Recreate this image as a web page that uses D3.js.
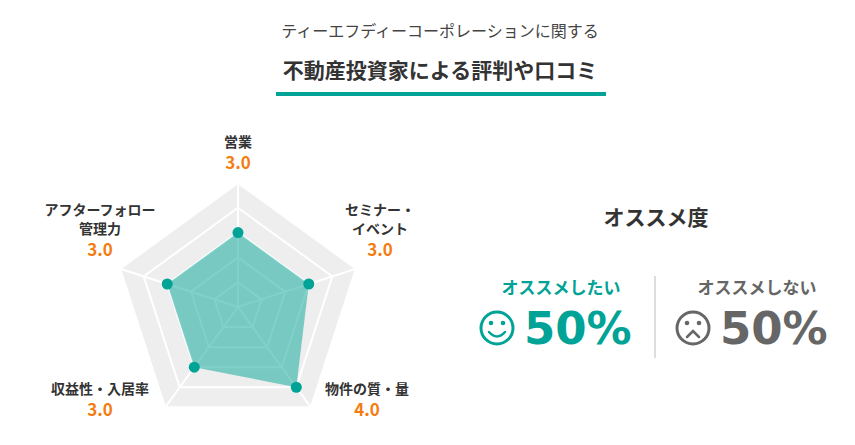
<!DOCTYPE html>
<html><head><meta charset="utf-8">
<script src="https://cdn.jsdelivr.net/npm/d3@7"></script>
<style>body{margin:0;background:#fff;font-family:"Noto Sans CJK JP","Noto Sans",sans-serif;}</style>
</head><body>
<script>
var categories = ["営業", "セミナー・\nイベント", "物件の質・量", "収益性・入居率", "アフターフォロー\n管理力"];
var scores = [3.0, 3.0, 4.0, 3.0, 3.0];
var recommend = [{label: "オススメしたい", pct: 50}, {label: "オススメしない", pct: 50}];
var maxScore = 5, levels = 5;

var width = 855, height = 445,
    cx = 238, cy = 307, R = 124,
    teal = "#00a396", orange = "#f57c0f";

var svg = d3.select("body").append("svg").attr("width", width).attr("height", height);

// title
svg.append("text").attr("x", 440).attr("y", 37).attr("text-anchor", "middle")
  .attr("font-size", 16).attr("fill", "#444").text("ティーエフディーコーポレーションに関する");
svg.append("text").attr("x", 440).attr("y", 78).attr("text-anchor", "middle")
  .attr("font-size", 21).attr("font-weight", "bold").attr("fill", "#333").text("不動産投資家による評判や口コミ");
svg.append("rect").attr("x", 276).attr("y", 92).attr("width", 330).attr("height", 4).attr("fill", teal);

var r = d3.scaleLinear().domain([0, maxScore]).range([0, R]);
var ang = function(i){ return i * 2 * Math.PI / categories.length; };
var pt = function(i, v){ return [cx + r(v) * Math.sin(ang(i)), cy - r(v) * Math.cos(ang(i))]; };
var line = d3.line().curve(d3.curveLinearClosed);

// grid
svg.append("path").attr("d", line(categories.map(function(d, i){ return pt(i, maxScore); })))
  .attr("fill", "#eeeeee");
d3.range(1, levels + 1).forEach(function(l){
  svg.append("path").attr("d", line(categories.map(function(d, i){ return pt(i, l); })))
    .attr("fill", "none").attr("stroke", "#fff").attr("stroke-width", 2);
});
categories.forEach(function(d, i){
  var p = pt(i, maxScore);
  svg.append("line").attr("x1", cx).attr("y1", cy).attr("x2", p[0]).attr("y2", p[1])
    .attr("stroke", "#fff").attr("stroke-width", 2);
});

// data
var pts = scores.map(function(v, i){ return pt(i, v); });
svg.append("path").attr("d", line(pts)).attr("fill", teal).attr("fill-opacity", 0.5);
svg.selectAll(".dot").data(pts).enter().append("circle")
  .attr("cx", function(d){ return d[0]; }).attr("cy", function(d){ return d[1]; })
  .attr("r", 5.5).attr("fill", teal);

// labels
var labelPos = [[238, 147], [380, 215], [367, 394], [100, 394], [100, 215]];
categories.forEach(function(c, i){
  var lines = c.split("\n"), p = labelPos[i];
  lines.forEach(function(t, k){
    svg.append("text").attr("x", p[0]).attr("y", p[1] + k * 19).attr("text-anchor", "middle")
      .attr("font-size", 14).attr("font-weight", "bold").attr("fill", "#333").text(t);
  });
  svg.append("text").attr("x", p[0]).attr("y", p[1] + (lines.length - 1) * 19 + 22).attr("text-anchor", "middle")
    .attr("font-size", 17).attr("font-weight", "bold").attr("fill", orange)
    .text(scores[i].toFixed(1));
});

// recommend panel
svg.append("text").attr("x", 656).attr("y", 225).attr("text-anchor", "middle")
  .attr("font-size", 21).attr("font-weight", "bold").attr("fill", "#333").text("オススメ度");
svg.append("line").attr("x1", 655).attr("x2", 655).attr("y1", 276).attr("y2", 358)
  .attr("stroke", "#ddd").attr("stroke-width", 2);

var cols = [{x: 561, color: teal, happy: true}, {x: 757, color: "#666", happy: false}];
recommend.forEach(function(d, i){
  var c = cols[i];
  svg.append("text").attr("x", c.x).attr("y", 294).attr("text-anchor", "middle")
    .attr("font-size", 17).attr("font-weight", "bold").attr("fill", c.color).text(d.label);
  var g = svg.append("g").attr("transform", "translate(" + (c.x - 64) + ",328)");
  g.append("circle").attr("r", 16).attr("fill", "none").attr("stroke", c.color).attr("stroke-width", 3);
  g.append("circle").attr("cx", -6).attr("cy", -5).attr("r", 2.3).attr("fill", c.color);
  g.append("circle").attr("cx", 6).attr("cy", -5).attr("r", 2.3).attr("fill", c.color);
  g.append("path").attr("d", c.happy ? "M-8,4 Q0,13 8,4" : "M-6,9 L0,3 L6,9")
    .attr("fill", "none").attr("stroke", c.color).attr("stroke-width", 2.5).attr("stroke-linecap", "round");
  svg.append("text").attr("x", c.x - 37).attr("y", 344).attr("font-size", 45).attr("font-weight", "bold")
    .attr("font-family", "'DejaVu Sans', sans-serif").attr("fill", c.color).text(d.pct + "%");
});
</script>
</body></html>
